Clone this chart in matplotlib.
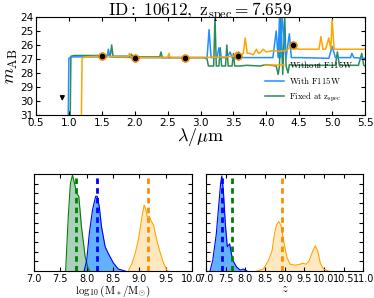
import matplotlib
matplotlib.use("Agg")
import matplotlib.pyplot as plt
import numpy as np

plt.rcParams['mathtext.fontset'] = 'cm'
plt.rcParams['font.family'] = ['DejaVu Sans']

# ---------------- data ----------------
lam_orange = [1.19, 1.20, 1.25, 1.5, 1.9, 1.92, 1.94, 2.0, 2.5, 2.52, 2.54, 3.0, 3.4, 3.5, 3.55, 3.6, 3.65,
              3.68, 3.71, 3.75, 3.8, 3.85, 3.88, 3.92, 3.95, 4.0, 4.1, 4.2, 4.3, 4.35, 4.5, 4.8, 4.83, 4.86,
              4.9, 4.95, 4.98, 5.0, 5.03, 5.1, 5.5]
mag_orange = [31, 26.95, 26.85, 26.8, 26.85, 26.6, 26.85, 26.9, 26.9, 26.6, 26.9, 26.9, 26.85, 26.8, 26.5,
              26.8, 26.6, 25.5, 26.6, 26.6, 26.7, 26.3, 26.6, 26.5, 26.3, 26.5, 26.4, 26.45, 26.4, 26.2, 26.3,
              26.3, 25.4, 26.3, 26.3, 25.5, 26.3, 24.2, 26.3, 26.3, 26.3]

lam_blue = [0.99, 1.0, 1.05, 1.5, 1.58, 1.6, 1.62, 2.0, 3.0, 3.1, 3.13, 3.16, 3.25, 3.28, 3.31, 3.4, 3.45,
            3.48, 3.55, 3.58, 3.61, 3.8, 4.1, 4.15, 4.18, 4.2, 4.22, 4.24, 4.3, 4.35, 4.38, 4.5, 4.95, 5.0,
            5.05, 5.28, 5.3, 5.33, 5.5]
mag_blue = [31, 26.95, 26.85, 26.85, 26.85, 26.3, 26.85, 26.9, 26.9, 26.9, 24.9, 26.9, 26.9, 26.2, 26.9,
            26.9, 26.5, 26.9, 26.9, 26.5, 26.9, 26.9, 26.9, 25.0, 26.9, 24.0, 26.9, 24.0, 26.9, 25.2, 26.9,
            26.9, 26.95, 26.1, 26.9, 26.9, 26.6, 26.9, 26.95]

lam_green = [1.02, 1.03, 1.08, 1.5, 1.63, 1.65, 1.67, 1.93, 1.95, 1.97, 2.38, 2.4, 2.42, 3.05, 3.1, 3.12,
             3.2, 3.22, 3.24, 3.28, 3.3, 3.32, 3.38, 3.4, 3.42, 3.48, 3.5, 3.52, 3.6, 3.7, 3.9, 4.0, 4.15,
             4.18, 4.2, 4.22, 4.25, 4.28, 4.3, 4.33, 4.35, 4.4, 4.7, 5.05, 5.08, 5.11, 5.4, 5.45, 5.48, 5.5]
mag_green = [31, 26.8, 26.75, 26.75, 26.75, 26.0, 26.8, 26.8, 26.65, 26.85, 26.85, 26.5, 26.9, 26.9, 27.0,
             27.5, 27.5, 24.0, 27.5, 27.5, 26.2, 27.5, 27.5, 26.0, 27.5, 27.5, 26.6, 27.5, 27.5, 27.45, 27.5,
             27.4, 27.5, 28.1, 27.5, 24.0, 28.1, 24.0, 27.5, 28.0, 27.4, 27.45, 27.45, 27.45, 26.5, 27.45,
             27.45, 26.6, 27.45, 27.5]

phot_lam = [1.5, 2.0, 2.77, 3.57, 4.41]
phot_mag = [26.75, 26.9, 26.92, 26.75, 26.0]
limit_lam = [0.9]
limit_mag = [29.4]

# mass posteriors (relative density)
mass_green_x = [7.6, 7.65, 7.69, 7.73, 7.77, 7.81, 7.85, 7.9, 7.97, 8.03, 8.06]
mass_green_y = [0.0, 0.56, 0.9, 0.99, 0.9, 0.8, 0.77, 0.46, 0.15, 0.02, 0.0]
mass_blue_x = [7.95, 8.0, 8.05, 8.11, 8.17, 8.2, 8.24, 8.28, 8.35, 8.41, 8.51, 8.6, 8.73]
mass_blue_y = [0.0, 0.11, 0.39, 0.63, 0.77, 0.77, 0.66, 0.46, 0.25, 0.18, 0.08, 0.02, 0.0]
mass_orange_x = [8.79, 8.86, 8.92, 8.98, 9.05, 9.09, 9.12, 9.15, 9.19, 9.22, 9.27, 9.33, 9.4, 9.46, 9.52, 9.55]
mass_orange_y = [0.0, 0.08, 0.18, 0.32, 0.56, 0.68, 0.64, 0.56, 0.56, 0.52, 0.47, 0.32, 0.18, 0.08, 0.01, 0.0]
mass_best = {'green': 7.79, 'blue': 8.19, 'orange': 9.155}

z_blue_x = [7.1, 7.17, 7.26, 7.31, 7.37, 7.4, 7.44, 7.49, 7.54, 7.6, 7.63, 7.68, 7.78, 7.87, 7.95, 8.04]
z_blue_y = [0.0, 0.11, 0.38, 0.62, 0.9, 0.98, 0.83, 0.49, 0.25, 0.28, 0.21, 0.11, 0.04, 0.01, 0.02, 0.0]
z_orange_x = [8.29, 8.46, 8.59, 8.68, 8.74, 8.79, 8.85, 8.91, 8.97, 9.06, 9.14, 9.27, 9.4, 9.46, 9.55,
              9.63, 9.72, 9.78, 9.84, 9.91, 9.99, 10.12]
z_orange_y = [0.0, 0.02, 0.11, 0.21, 0.38, 0.47, 0.51, 0.47, 0.32, 0.14, 0.07, 0.06, 0.07, 0.08, 0.07,
              0.11, 0.21, 0.26, 0.21, 0.08, 0.02, 0.0]
z_best = {'green': 7.659, 'blue': 7.41, 'orange': 8.94}

c_or = '#FFA500'
c_bl = '#1E90FF'
c_gr = '#2E8B57'

fig = plt.figure(figsize=(3.74, 2.98), dpi=100)

ax = fig.add_axes([0.0963, 0.614, 0.8797, 0.329])
ax.plot(lam_orange, mag_orange, color=c_or, lw=1.1, label=r'$\rm Without\ F115W$', zorder=3)
ax.plot(lam_blue, mag_blue, color=c_bl, lw=1.1, label=r'$\rm With\ F115W$', zorder=2)
ax.plot(lam_green, mag_green, color=c_gr, lw=1.1, label=r'$\rm Fixed\ at\ z_{spec}$', zorder=1)
ax.plot(phot_lam, phot_mag, 'o', color=c_or, ms=5.5, mec='#e07000', mew=0.5, zorder=4)
ax.plot(phot_lam, phot_mag, 'o', color='k', ms=3, zorder=5)
for xl, yl in zip(limit_lam, limit_mag):
    ax.annotate('', xy=(xl, yl + 0.8), xytext=(xl, yl),
                arrowprops=dict(arrowstyle='-|>', color='k', lw=0.9, mutation_scale=7))
ax.set_xlim(0.5, 5.5)
ax.set_ylim(31, 24)
ax.set_xticks(np.arange(0.5, 5.51, 0.5))
ax.set_yticks(np.arange(24, 31.1, 1))
ax.tick_params(direction='in', top=True, right=True, labelsize=7.5, length=3, pad=2)
ax.set_xlabel(r'$\lambda/\mu{\rm m}$', fontsize=13, labelpad=-1)
ax.set_ylabel(r'$m_{\rm AB}$', fontsize=13, labelpad=0)
ax.set_title(r'$\rm ID:\ 10612,\ z_{spec}=7.659$', fontsize=12.5, pad=1)
leg = ax.legend(loc='lower right', frameon=False, fontsize=6.3, handlelength=2.2, borderaxespad=0.9,
                labelspacing=0.55, handletextpad=0.6)

# bottom left: mass
ax1 = fig.add_axes([0.091, 0.0906, 0.4225, 0.3255])
for xs, ys, fc, ec, a in [(mass_green_x, mass_green_y, c_gr, 'green', 0.4),
                          (mass_blue_x, mass_blue_y, c_bl, 'blue', 0.7),
                          (mass_orange_x, mass_orange_y, c_or, c_or, 0.25)]:
    ax1.fill_between(xs, 0, ys, color=fc, alpha=a, lw=0)
    ax1.plot(xs, ys, color=ec, lw=0.8)
for col, v in zip(['green', 'blue', 'darkorange'], mass_best.values()):
    ax1.axvline(v, color=col, ls=(0, (2, 1.5)), lw=2)
ax1.set_xlim(7.0, 10.0)
ax1.set_ylim(0, 1.0)
ax1.set_xticks(np.arange(7.0, 10.01, 0.5))
ax1.set_yticks(np.arange(0.1, 1.0, 0.1))
ax1.set_yticklabels([])
ax1.tick_params(direction='in', top=True, right=True, labelsize=7, length=3, pad=2)
ax1.set_xlabel(r'$\log_{10}({\rm M_*/M_{\odot}})$', fontsize=8, labelpad=0)

# bottom right: redshift
ax2 = fig.add_axes([0.551, 0.0906, 0.42, 0.3255])
for xs, ys, fc, ec, a in [(z_blue_x, z_blue_y, c_bl, 'blue', 0.7),
                          (z_orange_x, z_orange_y, c_or, c_or, 0.25)]:
    ax2.fill_between(xs, 0, ys, color=fc, alpha=a, lw=0)
    ax2.plot(xs, ys, color=ec, lw=0.8)
for col, v in zip(['green', 'blue', 'darkorange'], z_best.values()):
    ax2.axvline(v, color=col, ls=(0, (2, 1.5)), lw=2)
ax2.set_xlim(7.0, 11.0)
ax2.set_ylim(0, 1.0)
ax2.set_xticks(np.arange(7.0, 11.01, 0.5))
ax2.set_yticks(np.arange(0.1, 1.0, 0.1))
ax2.set_yticklabels([])
ax2.tick_params(direction='in', top=True, right=True, labelsize=7, length=3, pad=2)
ax2.set_xlabel(r'$z$', fontsize=9, labelpad=-1)

fig.savefig('out.png', dpi=100)
